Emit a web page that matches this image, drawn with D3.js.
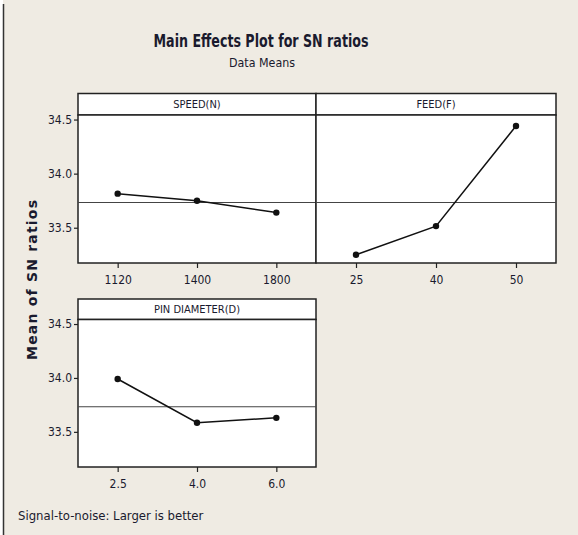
<!DOCTYPE html>
<html lang="en">
<head>
    <meta charset="UTF-8">
    <title>Main Effects Plot for SN ratios</title>
    <script src="https://d3js.org/d3.v7.min.js"></script>
    <style>
        body { margin: 0; background: #ffffff; }
        svg text { font-family: "DejaVu Sans Condensed", "Liberation Sans Narrow", "Liberation Sans", sans-serif; fill: #1a1a2e; }
    </style>
</head>
<body>
    <div id="chart"></div>
    <script>
        // Factor levels and mean SN ratios
        const speedLevels = ["1120", "1400", "1800"];
        const speedSN = [33.815, 33.75, 33.64];
        const feedLevels = ["25", "40", "50"];
        const feedSN = [33.25, 33.515, 34.44];
        const pinLevels = ["2.5", "4.0", "6.0"];
        const pinSN = [33.99, 33.585, 33.63];
        const grandMean = 33.733;
        const yTicks = [33.5, 34.0, 34.5];
        const yDomain = [33.174, 34.542];

        const svg = d3.select("#chart").append("svg")
            .attr("width", 578)
            .attr("height", 535);

        // background + left frame line
        svg.append("rect").attr("x", 3).attr("y", 0).attr("width", 575).attr("height", 535).attr("fill", "#efebe3");
        svg.append("line").attr("x1", 3.5).attr("x2", 3.5).attr("y1", 4).attr("y2", 535)
            .attr("stroke", "#333").attr("stroke-width", 1.5);

        // Titles
        svg.append("text").attr("x", 261).attr("y", 47).attr("text-anchor", "middle")
            .attr("textLength", 215).attr("lengthAdjust", "spacingAndGlyphs")
            .style("font-size", "18px").style("font-weight", "bold").text("Main Effects Plot for SN ratios");
        svg.append("text").attr("x", 262).attr("y", 67).attr("text-anchor", "middle")
            .attr("textLength", 66).attr("lengthAdjust", "spacingAndGlyphs")
            .style("font-size", "13px").text("Data Means");

        const panels = [
            {name: "SPEED(N)", levels: speedLevels, values: speedSN, x0: 78, x1: 316, hTop: 93.5, top: 115, bottom: 263, yAxis: true},
            {name: "FEED(F)", levels: feedLevels, values: feedSN, x0: 316, x1: 556, hTop: 93.5, top: 115, bottom: 263, yAxis: false},
            {name: "PIN DIAMETER(D)", levels: pinLevels, values: pinSN, x0: 78, x1: 316, hTop: 299, top: 319.5, bottom: 467, yAxis: true}
        ];

        panels.forEach(p => {
            const g = svg.append("g");
            const x = d3.scalePoint().domain(p.levels).range([p.x0, p.x1]).padding(0.5);
            const y = d3.scaleLinear().domain(yDomain).range([p.bottom, p.top]);

            // header strip
            g.append("rect").attr("x", p.x0).attr("y", p.hTop).attr("width", p.x1 - p.x0).attr("height", p.top - p.hTop)
                .attr("fill", "#fff").attr("stroke", "#222").attr("stroke-width", 1.5);
            g.append("text").attr("x", (p.x0 + p.x1) / 2).attr("y", (p.hTop + p.top) / 2 + 4)
                .attr("text-anchor", "middle").style("font-size", "11px").text(p.name);

            // plot area
            g.append("rect").attr("x", p.x0).attr("y", p.top).attr("width", p.x1 - p.x0).attr("height", p.bottom - p.top)
                .attr("fill", "#fff").attr("stroke", "#222").attr("stroke-width", 1.5);

            // grand mean reference line
            g.append("line").attr("x1", p.x0).attr("x2", p.x1)
                .attr("y1", y(grandMean)).attr("y2", y(grandMean))
                .attr("stroke", "#444").attr("stroke-width", 1.2);

            // x axis
            const xa = g.append("g").attr("transform", `translate(0,${p.bottom})`)
                .call(d3.axisBottom(x).tickSize(5).tickPadding(7));
            xa.select(".domain").remove();
            xa.selectAll("line").attr("stroke", "#222").attr("stroke-width", 1.2);
            xa.selectAll("text").style("font-size", "12px").attr("fill", "#1a1a2e");

            if (p.yAxis) {
                const ya = g.append("g").attr("transform", `translate(${p.x0},0)`)
                    .call(d3.axisLeft(y).tickValues(yTicks).tickFormat(d3.format(".1f")).tickSize(4).tickPadding(2));
                ya.select(".domain").remove();
                ya.selectAll("line").attr("stroke", "#222").attr("stroke-width", 1.2);
                ya.selectAll("text").style("font-size", "12px").attr("fill", "#1a1a2e");
            }

            // effect line + points
            const pts = p.levels.map((l, i) => [x(l), y(p.values[i])]);
            g.append("path").attr("d", d3.line()(pts))
                .attr("fill", "none").attr("stroke", "#111").attr("stroke-width", 1.5);
            g.selectAll("circle").data(pts).enter().append("circle")
                .attr("cx", d => d[0]).attr("cy", d => d[1]).attr("r", 3.2).attr("fill", "#111");
        });

        // Y axis label
        svg.append("text").attr("transform", "translate(37,280) rotate(-90)")
            .attr("text-anchor", "middle").attr("textLength", 160).attr("lengthAdjust", "spacing")
            .style("font-size", "14px").style("font-weight", "bold")
            .style("font-family", "'DejaVu Sans', Verdana, sans-serif")
            .text("Mean of SN ratios");

        // footnote
        svg.append("text").attr("x", 18).attr("y", 520)
            .style("font-size", "13px").text("Signal-to-noise: Larger is better");
    </script>
</body>
</html>
